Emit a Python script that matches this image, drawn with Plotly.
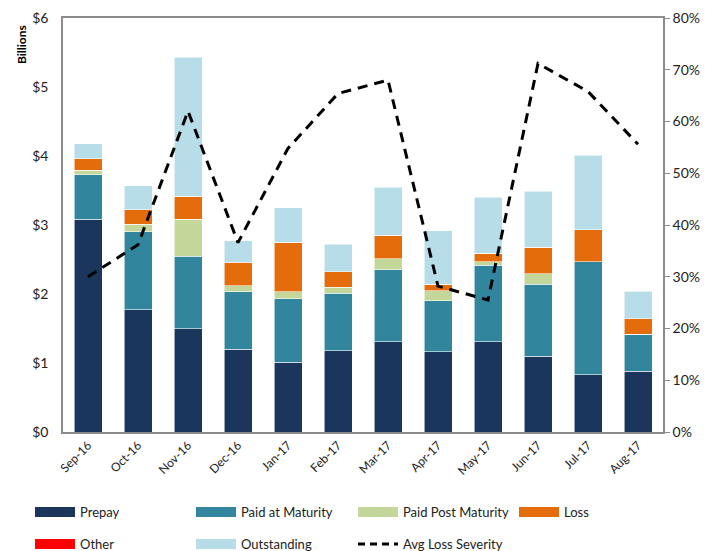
import plotly.graph_objects as go

months = ["Sep-16", "Oct-16", "Nov-16", "Dec-16", "Jan-17", "Feb-17",
          "Mar-17", "Apr-17", "May-17", "Jun-17", "Jul-17", "Aug-17"]

prepay = [3.08, 1.77, 1.50, 1.20, 1.01, 1.18, 1.31, 1.16, 1.31, 1.10, 0.83, 0.88]
paid_at_maturity = [0.65, 1.13, 1.05, 0.83, 0.92, 0.83, 1.04, 0.74, 1.11, 1.04, 1.64, 0.54]
paid_post_maturity = [0.06, 0.11, 0.53, 0.09, 0.10, 0.09, 0.16, 0.15, 0.05, 0.15, 0.00, 0.00]
loss = [0.17, 0.21, 0.34, 0.33, 0.72, 0.22, 0.34, 0.09, 0.12, 0.39, 0.46, 0.22]
other = [0.00, 0.00, 0.00, 0.01, 0.00, 0.00, 0.00, 0.00, 0.00, 0.00, 0.00, 0.00]
outstanding = [0.22, 0.35, 2.01, 0.31, 0.50, 0.40, 0.70, 0.78, 0.81, 0.81, 1.08, 0.40]
avg_loss_severity = [0.300, 0.362, 0.620, 0.366, 0.548, 0.654, 0.680, 0.282, 0.255, 0.712, 0.658, 0.556]

FONT = "Lato, Open Sans, sans-serif"

series = [
    ("Prepay", prepay, "#1B365D"),
    ("Paid at Maturity", paid_at_maturity, "#31869E"),
    ("Paid Post Maturity", paid_post_maturity, "#C4D79B"),
    ("Loss", loss, "#E46C0A"),
    ("Other", other, "#FF0000"),
    ("Outstanding", outstanding, "#B7DEE8"),
]

fig = go.Figure()
for name, vals, color in series:
    fig.add_trace(go.Bar(
        x=months, y=vals, name=name,
        marker=dict(color=color, line=dict(color="rgba(255,255,255,0.7)", width=0.8)),
        showlegend=False, yaxis="y"))

fig.add_trace(go.Scatter(
    x=months, y=avg_loss_severity, name="Avg Loss Severity", mode="lines",
    line=dict(color="black", width=3, dash="10px,7px"), yaxis="y2", showlegend=False))

# legend grid: (legend id, column, row)
PLOT_L, PLOT_W, PLOT_B, PLOT_H = 63, 600, 432, 414
col_px = [30, 191, 353, 514]
row_px = [512, 544]
legend_slots = [("Prepay", 0, 0), ("Paid at Maturity", 1, 0), ("Paid Post Maturity", 2, 0),
                ("Loss", 3, 0), ("Other", 0, 1), ("Outstanding", 1, 1),
                ("Avg Loss Severity", 2, 1)]
colors = {n: c for n, _, c in series}
legend_layout = {}
for i, (name, col, row) in enumerate(legend_slots):
    lid = "legend" if i == 0 else f"legend{i + 1}"
    if name == "Avg Loss Severity":
        line = dict(color="black", width=3, dash="7px,5px")
    else:
        line = dict(color=colors[name], width=10)
    fig.add_trace(go.Scatter(x=[None], y=[None], mode="lines", name=name,
                             line=line, legend=lid, showlegend=True))
    legend_layout[lid] = dict(
        x=(col_px[col] - PLOT_L) / PLOT_W, xanchor="left",
        y=-(row_px[row] - PLOT_B) / PLOT_H, yanchor="middle",
        orientation="h", itemwidth=40, font=dict(size=13, color="#222222"),
        bgcolor="rgba(0,0,0,0)")

axis_line = "#8C8C8C"
fig.update_layout(
    width=717, height=551,
    margin=dict(l=63, r=54, t=18, b=119, autoexpand=False),
    paper_bgcolor="white", plot_bgcolor="white",
    barmode="stack", bargap=0.44,
    font=dict(family=FONT, size=13, color="#222222"),
    xaxis=dict(showline=True, linecolor=axis_line, linewidth=1.5, mirror=True,
               tickangle=-45, ticks="", showgrid=False, tickfont=dict(size=12),
               automargin=False),
    yaxis=dict(range=[0, 6], dtick=1, tickprefix="$", showgrid=False, showline=True,
               linecolor=axis_line, linewidth=1.5, ticks="", ticklabelstandoff=10,
               zeroline=False, tickfont=dict(size=14), automargin=False),
    yaxis2=dict(range=[0, 0.8], dtick=0.1, tickformat=".0%", overlaying="y", side="right",
                showgrid=False, showline=True, linecolor=axis_line, linewidth=1.5,
                ticks="outside", ticklen=5, tickcolor=axis_line, zeroline=False,
                tickfont=dict(size=14), automargin=False),
    annotations=[dict(text="<b>Billions</b>", xref="paper", yref="paper",
                      x=-0.068, y=0.935, xanchor="center", yanchor="middle",
                      textangle=-90, showarrow=False,
                      font=dict(size=12, color="black"))],
    **legend_layout,
)

fig.write_html("out.html", config={"displayModeBar": False},
               post_script="document.body.style.margin='0';document.body.style.overflow='hidden';")
